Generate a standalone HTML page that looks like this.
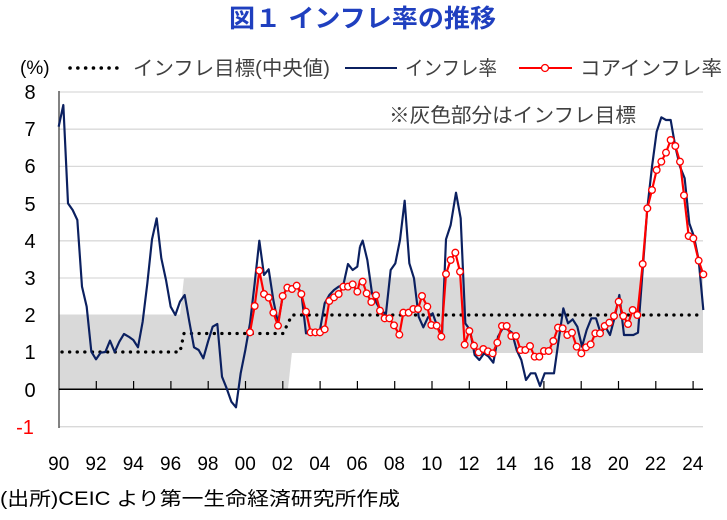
<!DOCTYPE html>
<html><head><meta charset="utf-8"><style>
body{margin:0;background:#fff;width:727px;height:515px;overflow:hidden;font-family:"Liberation Sans","Noto Sans CJK JP",sans-serif}
</style></head><body>
<svg width="727" height="515" viewBox="0 0 727 515" xmlns="http://www.w3.org/2000/svg" font-family="Liberation Sans, Noto Sans CJK JP, sans-serif">
<text x="229" y="27" textLength="267" lengthAdjust="spacingAndGlyphs" font-size="25" font-weight="bold" fill="#1f3fbf">図１ インフレ率の推移</text>
<!-- gridlines -->
<g stroke="#d9d9d9" stroke-width="1.3">
<line x1="59" x2="703" y1="92" y2="92"/><line x1="59" x2="703" y1="129.2" y2="129.2"/>
<line x1="59" x2="703" y1="166.4" y2="166.4"/><line x1="59" x2="703" y1="203.6" y2="203.6"/>
<line x1="59" x2="703" y1="240.8" y2="240.8"/><line x1="59" x2="703" y1="278" y2="278"/>
<line x1="59" x2="703" y1="315.2" y2="315.2"/><line x1="59" x2="703" y1="352.4" y2="352.4"/>
<line x1="59" x2="703" y1="426.7" y2="426.7"/>
</g>
<!-- band -->
<polygon fill="#d9d9d9" points="59,315 180,315 184,277.6 703,277.6 703,352 292,352 288,389 59,389"/>
<!-- axes -->
<line x1="59" y1="91" x2="59" y2="428" stroke="#595959" stroke-width="1.5"/>
<line x1="59" y1="389.3" x2="703" y2="389.3" stroke="#000" stroke-width="1.5"/>
<g stroke="#000" stroke-width="1.2">
<line x1="96.3" x2="96.3" y1="381" y2="389"/><line x1="133.6" x2="133.6" y1="381" y2="389"/><line x1="170.9" x2="170.9" y1="381" y2="389"/><line x1="208.2" x2="208.2" y1="381" y2="389"/><line x1="245.5" x2="245.5" y1="381" y2="389"/><line x1="282.8" x2="282.8" y1="381" y2="389"/><line x1="320.1" x2="320.1" y1="381" y2="389"/><line x1="357.4" x2="357.4" y1="381" y2="389"/><line x1="394.7" x2="394.7" y1="381" y2="389"/><line x1="432" x2="432" y1="381" y2="389"/><line x1="469.3" x2="469.3" y1="381" y2="389"/><line x1="506.6" x2="506.6" y1="381" y2="389"/><line x1="543.9" x2="543.9" y1="381" y2="389"/><line x1="581.2" x2="581.2" y1="381" y2="389"/><line x1="618.5" x2="618.5" y1="381" y2="389"/><line x1="655.8" x2="655.8" y1="381" y2="389"/><line x1="693.1" x2="693.1" y1="381" y2="389"/>
</g>
<!-- y labels -->
<g font-size="20" fill="#000" text-anchor="middle">
<text x="30" y="99">8</text><text x="30" y="136">7</text><text x="30" y="173">6</text><text x="30" y="211">5</text><text x="30" y="248">4</text><text x="30" y="285">3</text><text x="30" y="322">2</text><text x="30" y="359">1</text><text x="30" y="397">0</text><text x="25" y="434" fill="#ff0000">-1</text>
</g>
<g font-size="19" fill="#000" text-anchor="middle">
<text x="58.7" y="470">90</text><text x="96" y="470">92</text><text x="133.3" y="470">94</text><text x="170.6" y="470">96</text><text x="207.9" y="470">98</text><text x="245.2" y="470">00</text><text x="282.5" y="470">02</text><text x="319.8" y="470">04</text><text x="357.1" y="470">06</text><text x="394.4" y="470">08</text><text x="431.7" y="470">10</text><text x="469" y="470">12</text><text x="506.3" y="470">14</text><text x="543.6" y="470">16</text><text x="580.9" y="470">18</text><text x="618.2" y="470">20</text><text x="655.5" y="470">22</text><text x="692.8" y="470">24</text>
</g>
<text x="0" y="505" font-size="19" textLength="400" lengthAdjust="spacingAndGlyphs" fill="#000">(出所)CEIC より第一生命経済研究所作成</text>
<!-- legend -->
<text x="20" y="74" font-size="19" fill="#000">(%)</text>
<line x1="70" y1="68" x2="124" y2="68" stroke="#000" stroke-width="3.5" stroke-dasharray="0.1 7.7" stroke-linecap="round"/>
<text x="133" y="75" font-size="20" textLength="197" lengthAdjust="spacingAndGlyphs" fill="#404040">インフレ目標(中央値)</text>
<line x1="345" y1="68" x2="397" y2="68" stroke="#0b2060" stroke-width="2"/>
<text x="405" y="75" font-size="20" textLength="92" lengthAdjust="spacingAndGlyphs" fill="#404040">インフレ率</text>
<line x1="519" y1="68" x2="572" y2="68" stroke="#ff0000" stroke-width="2"/>
<circle cx="545" cy="68" r="3.5" fill="#fff" stroke="#ff0000" stroke-width="1.3"/>
<text x="580" y="75" font-size="20" textLength="142" lengthAdjust="spacingAndGlyphs" fill="#404040">コアインフレ率</text>
<text x="389" y="122" font-size="20" textLength="247" lengthAdjust="spacingAndGlyphs" fill="#404040">※灰色部分はインフレ目標</text>
<!-- target -->
<polyline fill="none" stroke="#000" stroke-width="3.3" stroke-linecap="round" stroke-dasharray="0.1 7.5" points="62,352 180,352 184,333.5 283,333.5 292,315 703,315"/>
<!-- blue -->
<g transform="translate(0,40) scale(0.33333)">
<polyline fill="none" stroke="#0b2060" stroke-width="6.5" stroke-linejoin="round" points="176,260 190,195 204,490 218,510 232,540 246,740 260,800 274,935 288,958 302,938 316,936 330,902 344,936 358,905 372,882 386,890 400,900 414,922 428,845 442,730 456,598 470,535 484,655 498,720 512,800 526,825 540,785 554,765 568,845 582,922 596,930 610,955 624,905 638,860 652,852 666,1010 680,1045 694,1085 708,1102 722,1000 736,930 750,850 764,730 778,602 792,705 806,688 820,780 834,850 848,770 862,740 876,740 890,737 904,758 918,880 932,880 946,880 960,870 974,790 988,765 1002,750 1016,740 1030,735 1044,672 1058,690 1072,680 1080,620"/>
</g>
<g transform="translate(360,40) scale(0.33333)">
<polyline fill="none" stroke="#0b2060" stroke-width="6.5" stroke-linejoin="round" points="0,620 8,602 22,660 36,760 50,790 64,815 78,820 92,690 106,670 120,600 134,482 148,670 162,715 176,830 190,862 204,832 218,820 232,860 246,888 258,598 272,555 288,458 302,535 316,850 330,870 344,945 358,960 372,940 386,950 400,968 414,890 428,865 442,868 456,878 470,930 484,960 498,1020 512,1000 526,1000 540,1038 554,1000 568,1000 582,1000 596,900 610,805 624,850 638,838 652,860 666,920 680,870 694,835 708,835 722,880 736,860 750,885 764,832 778,765 792,885 806,885 820,885 834,878 848,690 862,505 876,380 890,275 904,232 918,240 932,240 946,320 960,380 974,415 988,550 1002,590 1016,660 1030,810"/>
</g>
<!-- red -->
<g transform="translate(0,40) scale(0.33333)">
<polyline fill="none" stroke="#ff0000" stroke-width="6.5" stroke-linejoin="round" points="750,877 764,798 778,692 792,762 806,773 820,818 834,857 848,768 862,743 876,747 890,737 904,762 918,815 932,877 946,877 960,877 974,868 988,783 1002,772 1016,762 1030,740 1044,740 1058,733 1072,755 1080,722"/>
<g fill="#fff" stroke="#ff0000" stroke-width="4">
<circle cx="750" cy="877" r="10"/><circle cx="764" cy="798" r="10"/><circle cx="778" cy="692" r="10"/><circle cx="792" cy="762" r="10"/><circle cx="806" cy="773" r="10"/><circle cx="820" cy="818" r="10"/><circle cx="834" cy="857" r="10"/><circle cx="848" cy="768" r="10"/><circle cx="862" cy="743" r="10"/><circle cx="876" cy="747" r="10"/><circle cx="890" cy="737" r="10"/><circle cx="904" cy="762" r="10"/><circle cx="918" cy="815" r="10"/><circle cx="932" cy="877" r="10"/><circle cx="946" cy="877" r="10"/><circle cx="960" cy="877" r="10"/><circle cx="974" cy="868" r="10"/><circle cx="988" cy="783" r="10"/><circle cx="1002" cy="772" r="10"/><circle cx="1016" cy="762" r="10"/><circle cx="1030" cy="740" r="10"/><circle cx="1044" cy="740" r="10"/><circle cx="1058" cy="733" r="10"/><circle cx="1072" cy="755" r="10"/>
</g></g>
<g transform="translate(360,40) scale(0.33333)">
<polyline fill="none" stroke="#ff0000" stroke-width="6.5" stroke-linejoin="round" points="0,722 8,725 20,760 34,786 48,766 60,812 74,835 88,835 102,856 118,884 130,818 146,818 160,807 174,807 186,768 202,800 214,855 230,857 244,890 258,702 272,660 286,638 300,695 314,914 328,873 342,917 356,937 370,927 384,934 398,940 412,908 426,858 440,858 454,888 468,888 482,930 496,930 510,918 524,950 538,950 552,933 566,933 580,903 594,863 608,865 622,885 636,878 650,920 664,940 678,922 692,913 706,880 720,880 734,858 748,848 762,828 776,785 790,828 804,852 818,810 832,825 848,672 862,505 876,450 890,390 904,365 918,338 932,300 946,318 960,365 972,466 986,588 1000,595 1016,662 1030,703"/>
<g fill="#fff" stroke="#ff0000" stroke-width="4">
<circle cx="8" cy="725" r="10"/><circle cx="20" cy="760" r="10"/><circle cx="34" cy="786" r="10"/><circle cx="48" cy="766" r="10"/><circle cx="60" cy="812" r="10"/><circle cx="74" cy="835" r="10"/><circle cx="88" cy="835" r="10"/><circle cx="102" cy="856" r="10"/><circle cx="118" cy="884" r="10"/><circle cx="130" cy="818" r="10"/><circle cx="146" cy="818" r="10"/><circle cx="160" cy="807" r="10"/><circle cx="174" cy="807" r="10"/><circle cx="186" cy="768" r="10"/><circle cx="202" cy="800" r="10"/><circle cx="214" cy="855" r="10"/><circle cx="230" cy="857" r="10"/><circle cx="244" cy="890" r="10"/><circle cx="258" cy="702" r="10"/><circle cx="272" cy="660" r="10"/><circle cx="286" cy="638" r="10"/><circle cx="300" cy="695" r="10"/><circle cx="314" cy="914" r="10"/><circle cx="328" cy="873" r="10"/><circle cx="342" cy="917" r="10"/><circle cx="356" cy="937" r="10"/><circle cx="370" cy="927" r="10"/><circle cx="384" cy="934" r="10"/><circle cx="398" cy="940" r="10"/><circle cx="412" cy="908" r="10"/><circle cx="426" cy="858" r="10"/><circle cx="440" cy="858" r="10"/><circle cx="454" cy="888" r="10"/><circle cx="468" cy="888" r="10"/><circle cx="482" cy="930" r="10"/><circle cx="496" cy="930" r="10"/><circle cx="510" cy="918" r="10"/><circle cx="524" cy="950" r="10"/><circle cx="538" cy="950" r="10"/><circle cx="552" cy="933" r="10"/><circle cx="566" cy="933" r="10"/><circle cx="580" cy="903" r="10"/><circle cx="594" cy="863" r="10"/><circle cx="608" cy="865" r="10"/><circle cx="622" cy="885" r="10"/><circle cx="636" cy="878" r="10"/><circle cx="650" cy="920" r="10"/><circle cx="664" cy="940" r="10"/><circle cx="678" cy="922" r="10"/><circle cx="692" cy="913" r="10"/><circle cx="706" cy="880" r="10"/><circle cx="720" cy="880" r="10"/><circle cx="734" cy="858" r="10"/><circle cx="748" cy="848" r="10"/><circle cx="762" cy="828" r="10"/><circle cx="776" cy="785" r="10"/><circle cx="790" cy="828" r="10"/><circle cx="804" cy="852" r="10"/><circle cx="818" cy="810" r="10"/><circle cx="832" cy="825" r="10"/><circle cx="848" cy="672" r="10"/><circle cx="862" cy="505" r="10"/><circle cx="876" cy="450" r="10"/><circle cx="890" cy="390" r="10"/><circle cx="904" cy="365" r="10"/><circle cx="918" cy="338" r="10"/><circle cx="932" cy="300" r="10"/><circle cx="946" cy="318" r="10"/><circle cx="960" cy="365" r="10"/><circle cx="972" cy="466" r="10"/><circle cx="986" cy="588" r="10"/><circle cx="1000" cy="595" r="10"/><circle cx="1016" cy="662" r="10"/><circle cx="1030" cy="703" r="10"/>
</g></g>
</svg>
</body></html>
